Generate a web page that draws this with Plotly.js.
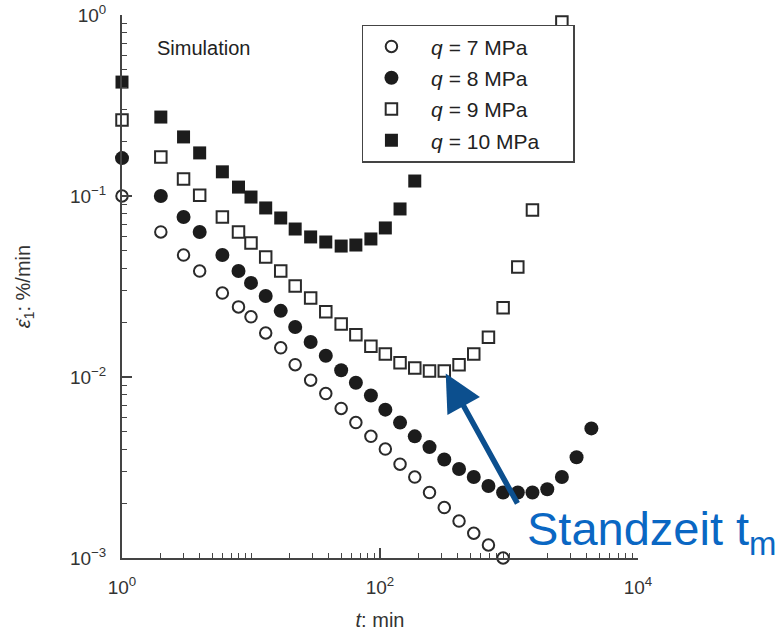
<!DOCTYPE html>
<html>
<head>
<meta charset="utf-8">
<script src="https://cdn.plot.ly/plotly-3.0.1.min.js"></script>
<style>html,body{margin:0;padding:0;background:#fff;}#chart{width:782px;height:631px;}</style>
</head>
<body>
<div id="chart"></div>
<script>
// time grid (min)
const t = [1,2,3,4,6,8,10,13,17,22,29,38,50,65,85,110,143,186,242,315,410,533,693,900,1170,1520,1980,2570,3340,4350];
// strain rate (%/min) for each deviator stress
const q7 = [0.1,0.0633,0.0472,0.0385,0.0291,0.0244,0.0215,0.0175,0.0145,0.0117,0.0096,0.0081,0.0067,0.0056,0.0047,0.0040,0.0033,0.0028,0.0023,0.0019,0.0016,0.00137,0.00118,0.001];
const q8 = [0.162,0.1,0.0766,0.0633,0.0472,0.0385,0.0331,0.0280,0.0232,0.0189,0.0156,0.0131,0.0109,0.0093,0.0079,0.0066,0.0056,0.0047,0.0041,0.0035,0.0031,0.0028,0.0025,0.0023,0.0023,0.0023,0.0024,0.0028,0.0036,0.0052];
const q9 = [0.263,0.164,0.124,0.101,0.0766,0.0633,0.055,0.046,0.0385,0.0318,0.0273,0.0229,0.0196,0.0171,0.0148,0.0134,0.0120,0.0112,0.0108,0.0108,0.0117,0.0134,0.0166,0.0241,0.0405,0.0837,0.247,0.915];
const q10 = [0.426,0.273,0.212,0.173,0.136,0.112,0.0987,0.0859,0.0756,0.0657,0.0594,0.0557,0.0529,0.0536,0.0579,0.0666,0.0848,0.121];
const names = ['<i>q</i> = 7 MPa','<i>q</i> = 8 MPa','<i>q</i> = 9 MPa','<i>q</i> = 10 MPa'];
const xTickVals = [1,100,10000];
const xTickText = ['10<sup>0</sup>','10<sup>2</sup>','10<sup>4</sup>'];
const yTickVals = [1,0.1,0.01,0.001];
const yTickText = ['10<sup>0</sup>','10<sup>\u22121</sup>','10<sup>\u22122</sup>','10<sup>\u22123</sup>'];
const minIndex = 19; // minimum of q = 9 MPa curve (Standzeit)

const FONT = 'Liberation Sans, Arial, sans-serif';
const INK = '#1c1c1c';
const AX = '#444';
const NB = '\u00a0';

function minorVals(lo, hi){
  const v=[];
  for(let e=lo;e<hi;e++){ for(let m=1;m<10;m++){ v.push(m*Math.pow(10,e)); } }
  v.push(Math.pow(10,hi));
  return v;
}

const series = [q7,q8,q9,q10];
const markers = [
  {symbol:'circle-open', size:11.5, line:{width:2, color:'#2a2a2a'}, color:'#2a2a2a'},
  {symbol:'circle', size:14, color:INK},
  {symbol:'square-open', size:11.5, line:{width:2, color:'#2a2a2a'}, color:'#2a2a2a'},
  {symbol:'square', size:13, color:INK}
];
const data = series.map((ys,i)=>({
  x: t.slice(0, ys.length), y: ys, type:'scatter', mode:'markers',
  name: NB + NB + names[i] + NB.repeat(5), marker: markers[i], cliponaxis:false, legendgroup:'g'+i
}));

const axisCommon = {
  type:'log', showgrid:false, zeroline:false, showline:true, linecolor:AX, linewidth:2,
  ticks:'inside', ticklen:10, tickwidth:1.5, tickcolor:AX,
  tickfont:{family:FONT, size:19, color:'#333'}, mirror:false
};

const layout = {
  width:782, height:631,
  margin:{l:122, r:144, t:15, b:73},
  paper_bgcolor:'#fff', plot_bgcolor:'#fff',
  showlegend:true,
  xaxis: Object.assign({}, axisCommon, {
    range:[0,4], tickmode:'array', tickvals:xTickVals, ticktext:xTickText,
    ticklabelstandoff:11,
    minor:{tickmode:'array', tickvals:minorVals(0,4), ticks:'inside', ticklen:5, tickwidth:1, tickcolor:AX, showgrid:false},
    title:{text:'<i>t</i>: min', font:{family:FONT, size:20, color:'#333'}, standoff:17}
  }),
  yaxis: Object.assign({}, axisCommon, {
    range:[-3,0], tickmode:'array', tickvals:yTickVals, ticktext:yTickText,
    ticklabelstandoff:10,
    minor:{tickmode:'array', tickvals:minorVals(-3,0), ticks:'inside', ticklen:5, tickwidth:1, tickcolor:AX, showgrid:false},
    title:{text:'<i>\u03B5\u0307</i><sub>1</sub>: %/min', font:{family:FONT, size:20, color:'#333'}, standoff:34}
  }),
  legend:{
    x:0.465, y:0.982, xanchor:'left', yanchor:'top',
    bgcolor:'#fff', bordercolor:'#444', borderwidth:1.5,
    font:{family:FONT, size:21, color:'#222'},
    tracegroupgap:1, itemwidth:46
  },
  annotations:[
    {xref:'paper', yref:'paper', x:(155-122)/516, y:(558-48)/543, xanchor:'left', yanchor:'middle',
     text:'Simulation', showarrow:false, font:{family:FONT, size:20, color:'#222'}},
    {x:Math.log10(t[minIndex]), y:Math.log10(q9[minIndex]), xref:'x', yref:'y',
     text:'', showarrow:true, axref:'pixel', ayref:'pixel', ax:74, ay:134,
     arrowhead:2, arrowsize:1.35, arrowwidth:5.5, arrowcolor:'#0c4f8e', standoff:3},
    {xref:'paper', yref:'paper', x:(525-122)/516, y:(558-500)/543, xanchor:'left', yanchor:'top',
     text:'Standzeit t<sub>m</sub>', showarrow:false, font:{family:FONT, size:47, color:'#0a67c3'}}
  ]
};

Plotly.newPlot('chart', data, layout, {displayModeBar:false, staticPlot:true});
</script>
</body>
</html>
